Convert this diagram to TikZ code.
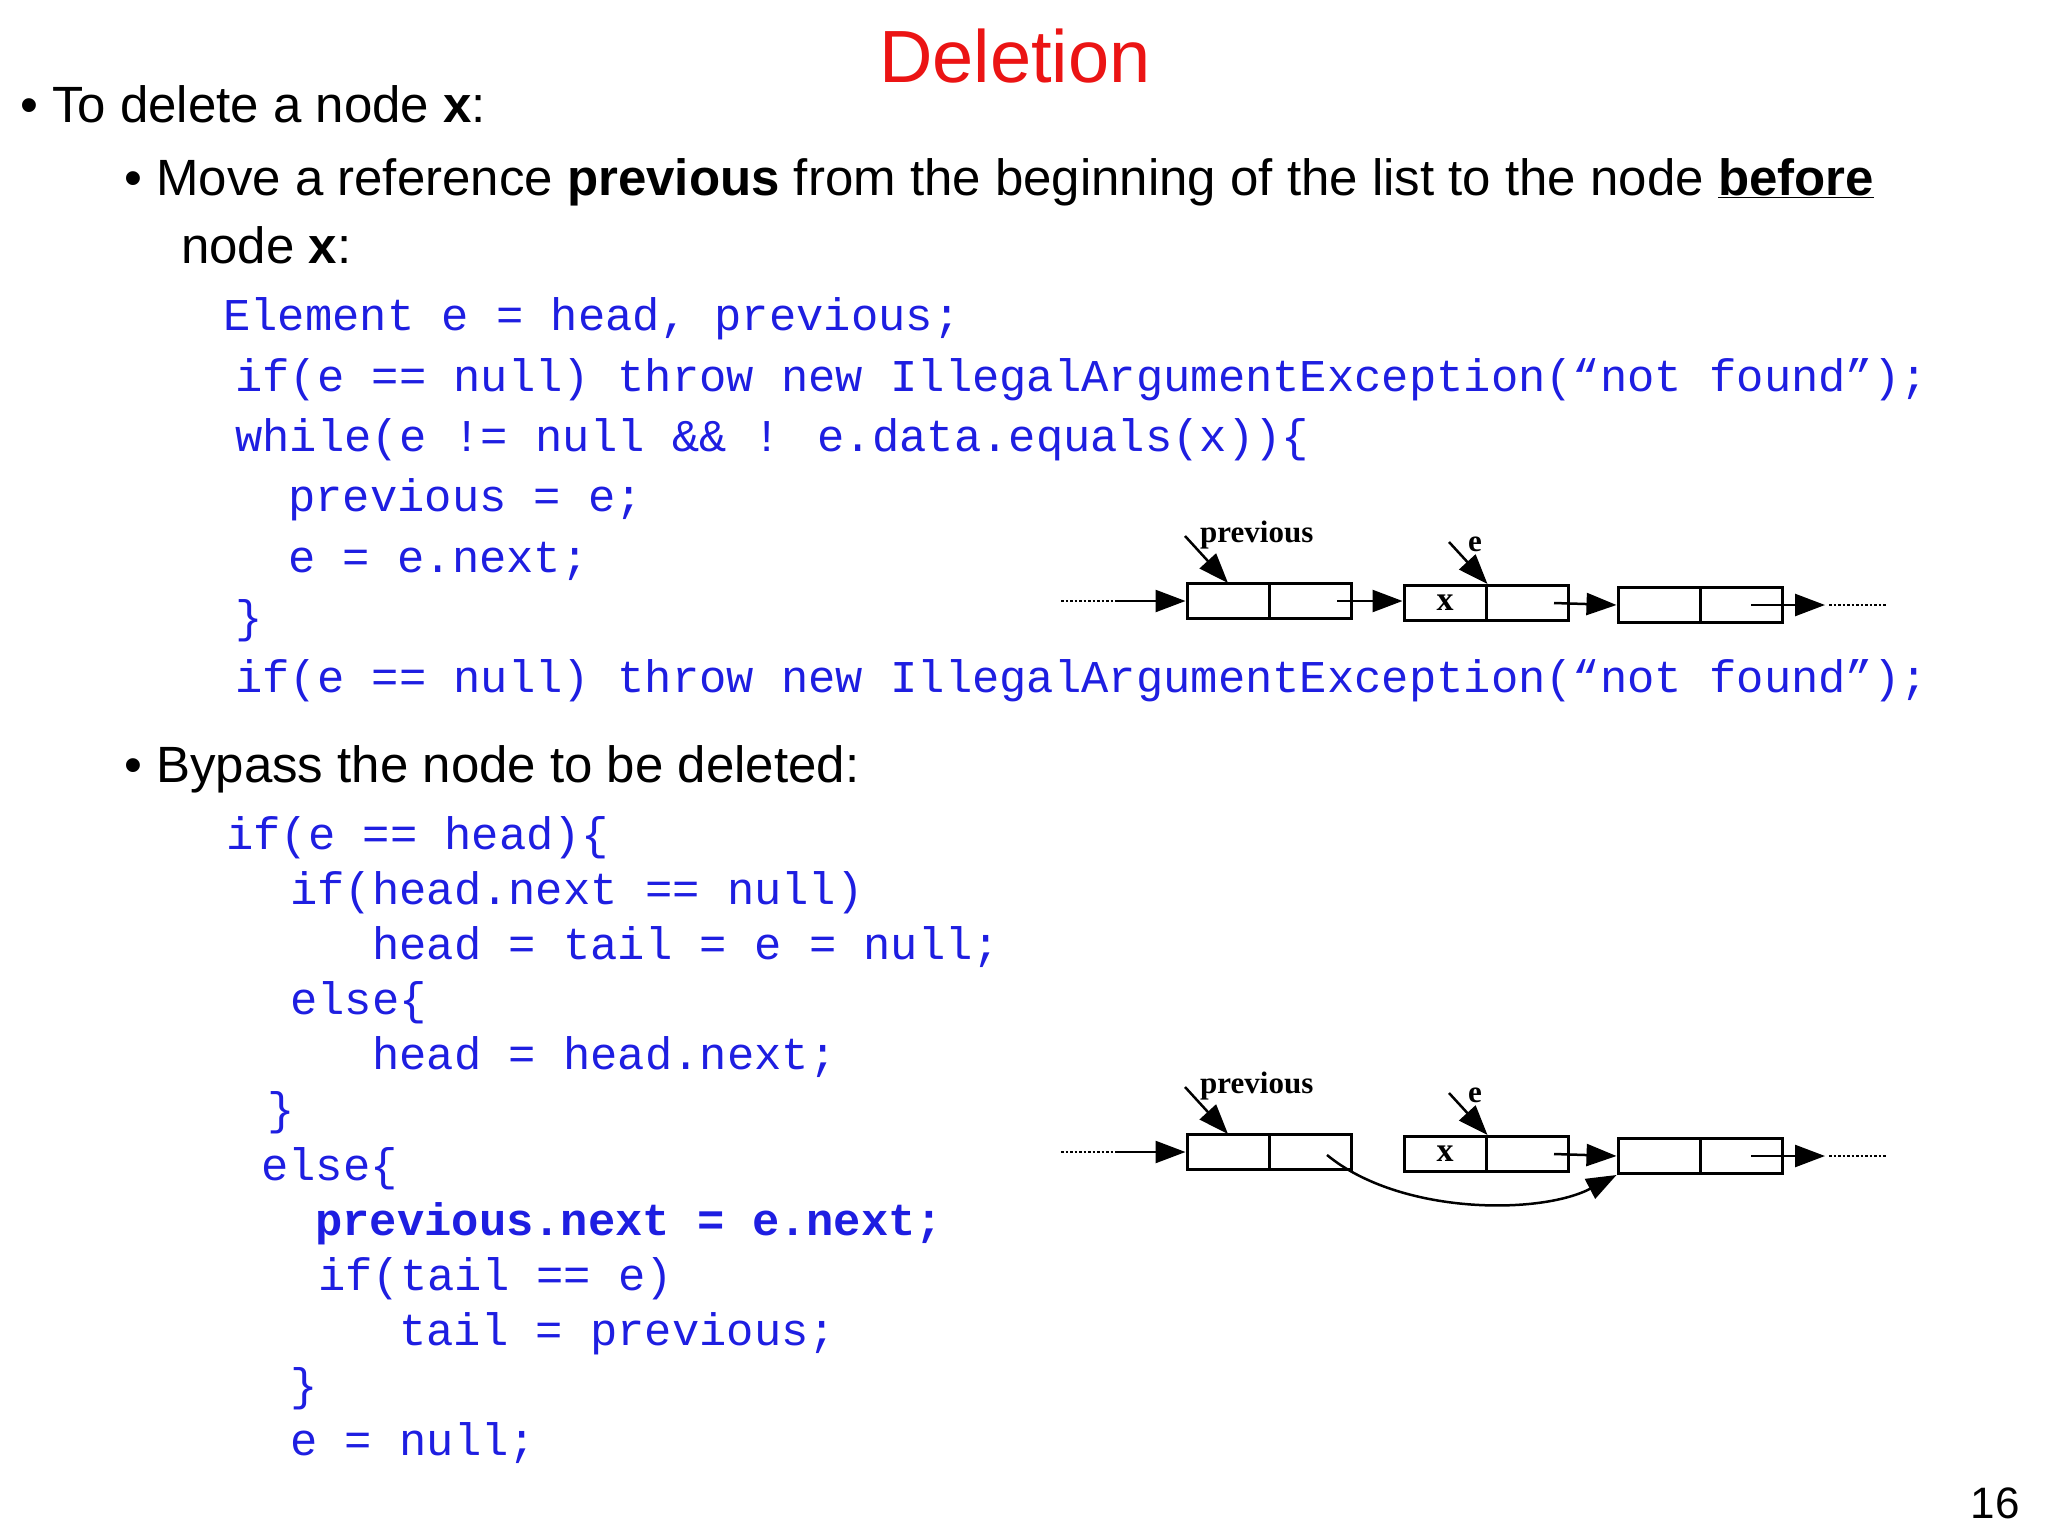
\documentclass[tikz,border=0pt]{standalone}
\usepackage{fontspec}
\setmainfont{Liberation Sans}
\newfontfamily\codefont{Liberation Mono}
\newfontfamily\diafont{Liberation Serif}
\usetikzlibrary{arrows.meta}
\definecolor{codeblue}{RGB}{30,30,225}
\definecolor{titlered}{RGB}{235,20,20}
\begin{document}
\begin{tikzpicture}[x=1pt,y=-1pt,
  txt/.style={anchor=base west,inner sep=0pt,font=\fontsize{51}{55}\selectfont},
  code/.style={anchor=base west,inner sep=0pt,text=codeblue,font=\codefont\fontsize{45.5}{50}\selectfont},
  cell/.style={draw,line width=3pt,minimum width=82pt,minimum height=35pt,inner sep=0pt,font=\diafont\bfseries\fontsize{34}{34}\selectfont},
  lbl/.style={anchor=base west,inner sep=0pt,font=\diafont\bfseries\fontsize{31}{31}\selectfont},
  arr/.style={line width=2.5pt,-{Triangle[length=30pt,width=22pt]}},
  dots/.style={line width=2.5pt,dotted}]
\useasboundingbox[fill=white] (0,0) rectangle (2048,1536);
\node[anchor=base,inner sep=0pt,text=titlered,font=\fontsize{74}{80}\selectfont] (title) at (1015,83) {Deletion};
\node[txt] (b1) at (20,123) {\textbullet\ To delete a node \textbf{x}:};
\node[txt] (b2) at (124,195) {\textbullet\ Move a reference \textbf{previous} from the beginning of the list to the node \textbf{\underline{before}}};
\node[txt] (b2b) at (181,263) {node \textbf{x}:};
\node[code] (c1) at (223,330) {Element e = head, previous;};
\node[code] (c2) at (235,391) {if(e == null) throw new IllegalArgumentException(“not found”);};
\node[code] (c3) at (235,451) {while(e != null \&\& ! e.data.equals(x))\{};
\node[code] (c4) at (288,511) {previous = e;};
\node[code] (c5) at (288,572) {e = e.next;};
\node[code] (c6) at (235,632) {\}};
\node[code] (c7) at (235,692) {if(e == null) throw new IllegalArgumentException(“not found”);};
\node[txt] (b3) at (124,782) {\textbullet\ Bypass the node to be deleted:};
\node[code] (d1) at (226,849) {if(e == head)\{};
\node[code] (d2) at (290,904) {if(head.next == null)};
\node[code] (d3) at (372,959) {head = tail = e = null;};
\node[code] (d4) at (290,1014) {else\{};
\node[code] (d5) at (372,1069) {head = head.next;};
\node[code] (d6) at (267,1124) {\}};
\node[code] (d7) at (261,1180) {else\{};
\node[code,font=\codefont\bfseries\fontsize{45.5}{50}\selectfont] (d8) at (315,1235) {previous.next = e.next;};
\node[code] (d9) at (318,1290) {if(tail == e)};
\node[code] (d10) at (399,1345) {tail = previous;};
\node[code] (d11) at (290,1400) {\}};
\node[code] (d12) at (290,1455) {e = null;};
\node[anchor=base,inner sep=0pt,font=\fontsize{44}{48}\selectfont] (pg) at (1995,1518) {16};
\foreach \dy/\p in {0/a,551/b}{
  \begin{scope}[yshift=-\dy pt]
  \node[cell] (\p1l) at (1228,601) {};
  \node[cell] (\p1r) at (1310,601) {};
  \node[cell] (\p2l) at (1445,603) {x};
  \node[cell] (\p2r) at (1527,603) {};
  \node[cell] (\p3l) at (1659,605) {};
  \node[cell] (\p3r) at (1741,605) {};
  \node[lbl] (\p pl) at (1200,542) {previous};
  \node[lbl] (\p el) at (1468,551) {e};
  \coordinate (\p s0) at (1061,601);
  \coordinate (\p s1) at (1116,601);
  \coordinate (\p e0) at (1829,605);
  \coordinate (\p e1) at (1887,605);
  \coordinate (\p pa) at (1185,536);
  \coordinate (\p pt) at (1228,583);
  \coordinate (\p ea) at (1449,542);
  \draw[dots] (\p s0) -- (\p s1);
  \draw[arr] (\p s1) -- (\p1l.west);
  \draw[arr] (\p pa) -- (\p pt);
  \draw[arr] (\p ea) -- (\p2l.north east);
  \draw[arr] ([xshift=27pt]\p2r.center) -- (\p3l.west);
  \draw[arr] ([xshift=10pt]\p3r.center) -- ([xshift=-4pt]\p e0);
  \draw[dots] (\p e0) -- (\p e1);
  \end{scope}
}
\draw[arr] ([xshift=27pt]a1r.center) -- ([yshift=2pt]a2l.west);
\draw[arr] ([xshift=17pt,yshift=-3pt]b1r.center) .. controls (1400,1215) and (1540,1215) .. (b3l.south west);
\end{tikzpicture}
\end{document}
